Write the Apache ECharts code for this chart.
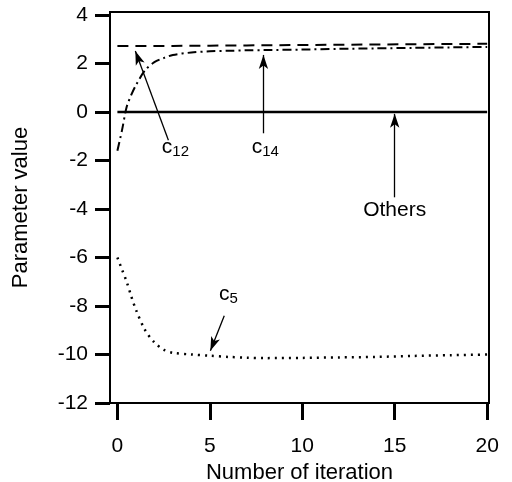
<!DOCTYPE html>
<html>
<head>
<meta charset="utf-8">
<script src="https://cdn.jsdelivr.net/npm/echarts@6/dist/echarts.min.js"></script>
<style>html,body{margin:0;padding:0;background:#fff}#chart{width:512px;height:482px}</style>
</head>
<body>
<div id="chart"></div>
<script>
// ---- data ----
var iterations = [0, 0.25, 0.5, 0.75, 1, 1.5, 2, 2.5, 3, 4, 5, 6, 7, 8, 10, 12, 14, 16, 18, 20];
var c14 = [2.72, 2.72, 2.72, 2.72, 2.72, 2.72, 2.72, 2.72, 2.72, 2.73, 2.73, 2.74, 2.74, 2.75, 2.76, 2.77, 2.78, 2.79, 2.80, 2.81];
var c12 = [-1.6, -0.75, 0.2, 0.7, 1.1, 1.72, 2.05, 2.22, 2.35, 2.45, 2.5, 2.52, 2.54, 2.55, 2.57, 2.6, 2.62, 2.64, 2.66, 2.68];
var others = [0, 0, 0, 0, 0, 0, 0, 0, 0, 0, 0, 0, 0, 0, 0, 0, 0, 0, 0, 0];
var c5 = [-6, -6.5, -7.0, -7.6, -8.15, -9.0, -9.5, -9.8, -9.93, -10.0, -10.05, -10.1, -10.13, -10.15, -10.14, -10.12, -10.1, -10.06, -10.03, -10.0];
var xTicks = [0, 5, 10, 15, 20];
var yTicks = [-12, -10, -8, -6, -4, -2, 0, 2, 4];
// annotations: [label text, subscript, label x, label y, arrow tail x, tail y, head x, head y]
var notes = [
  ['c', '12', 3.14, -1.66, 2.76, -1.17, 0.97, 2.51],
  ['c', '14', 8.0, -1.66, 7.9, -0.88, 7.9, 2.35],
  ['Others', '', 15.0, -4.06, 15.0, -3.52, 15.0, -0.08],
  ['c', '5', 6.0, -7.7, 5.78, -8.4, 5.03, -9.85]
];

function pairs(ys) { return iterations.map(function (x, i) { return [x, ys[i]]; }); }

var FONT = 'Liberation Sans';
var chart = echarts.init(document.getElementById('chart'), null, {renderer: 'canvas'});

var arrowData = notes.map(function (n) {
  return [{coord: [n[4], n[5]], symbol: 'none'}, {coord: [n[6], n[7]], symbol: 'arrow', symbolSize: [7, 14]}];
});
var labelData = notes.map(function (n) {
  return {
    coord: [n[2], n[3]],
    label: {
      show: true,
      position: 'inside',
      formatter: n[1] ? '{c|' + n[0] + '}{s|' + n[1] + '}' : '{o|' + n[0] + '}',
      rich: {
        c: {fontFamily: FONT, fontSize: 21, color: '#000', padding: [0, 0, 9, 0]},
        s: {fontFamily: FONT, fontSize: 15, color: '#000'},
        o: {fontFamily: FONT, fontSize: 21, color: '#000'}
      }
    }
  };
});

var lineBase = {type: 'line', showSymbol: false, smooth: 0.3, animation: false};

chart.setOption({
  animation: false,
  backgroundColor: '#fff',
  grid: {left: 110, right: 23, top: 12, bottom: 79, show: true, borderColor: '#000', borderWidth: 2,
    containLabel: false, outerBoundsMode: 'none'},
  xAxis: {
    type: 'value', min: -0.4, max: 20.1,
    name: 'Number of iteration', nameLocation: 'middle', nameGap: 55,
    nameTextStyle: {fontFamily: FONT, fontSize: 22, color: '#000'},
    axisLine: {show: true, onZero: false, lineStyle: {color: '#000', width: 2}},
    axisTick: {show: true, inside: false, length: 17, lineStyle: {color: '#000', width: 3}, customValues: xTicks},
    axisLabel: {fontFamily: FONT, fontSize: 21, color: '#000', margin: 33, customValues: xTicks},
    splitLine: {show: false}
  },
  yAxis: {
    type: 'value', min: -12, max: 4.12,
    name: 'Parameter value', nameLocation: 'middle', nameGap: 78,
    nameTextStyle: {fontFamily: FONT, fontSize: 22, color: '#000'},
    axisLine: {show: true, onZero: false, lineStyle: {color: '#000', width: 2}},
    axisTick: {show: true, inside: false, length: 15, lineStyle: {color: '#000', width: 3}, customValues: yTicks},
    axisLabel: {fontFamily: FONT, fontSize: 21, color: '#000', margin: 22, customValues: yTicks,
      formatter: function (v) { return String(v); }},
    splitLine: {show: false}
  },
  series: [
    Object.assign({}, lineBase, {name: 'c14', data: pairs(c14), smooth: false,
      lineStyle: {color: '#000', width: 2, type: [11, 7]}}),
    Object.assign({}, lineBase, {name: 'c12', data: pairs(c12),
      lineStyle: {color: '#000', width: 2, type: [9, 4, 2, 4]}}),
    Object.assign({}, lineBase, {name: 'Others', data: pairs(others), smooth: false,
      lineStyle: {color: '#000', width: 2.5, type: 'solid'},
      markLine: {silent: true, animation: false, label: {show: false},
        lineStyle: {color: '#000', width: 1.3, type: 'solid'}, data: arrowData},
      markPoint: {silent: true, animation: false, symbol: 'circle', symbolSize: 0,
        itemStyle: {color: 'transparent'}, data: labelData}}),
    Object.assign({}, lineBase, {name: 'c5', data: pairs(c5),
      lineStyle: {color: '#000', width: 2.5, type: [2, 5]}})
  ]
});
</script>
</body>
</html>
